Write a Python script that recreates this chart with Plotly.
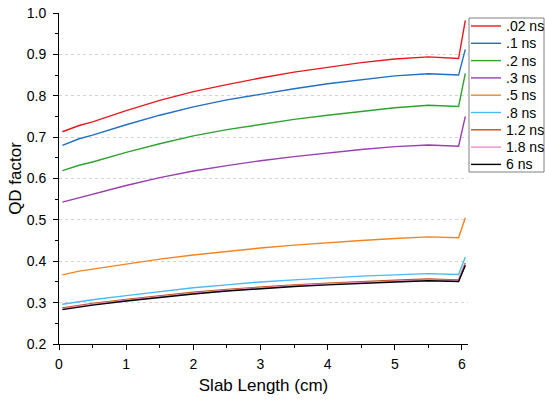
import plotly.graph_objects as go

x = [0.05, 0.3, 0.5, 1.0, 1.5, 2.0, 2.5, 3.0, 3.5, 4.0, 4.5, 5.0, 5.5, 5.95, 6.05]

names = [".02 ns", ".1 ns", ".2 ns", ".3 ns", ".5 ns", ".8 ns", "1.2 ns", "1.8 ns", "6 ns"]
colors = ["#e8191e", "#1f6fc5", "#2ea32e", "#9a3fb0", "#f5831f", "#4cb8f5", "#c0501a", "#f08ccc", "#000000"]

y_002 = [0.713, 0.728, 0.737, 0.764, 0.789, 0.810, 0.827, 0.843, 0.857, 0.869, 0.880, 0.889, 0.894, 0.890, 0.982]
y_01 = [0.680, 0.696, 0.705, 0.730, 0.753, 0.773, 0.790, 0.804, 0.817, 0.829, 0.839, 0.848, 0.853, 0.850, 0.912]
y_02 = [0.619, 0.632, 0.640, 0.663, 0.684, 0.703, 0.718, 0.731, 0.743, 0.753, 0.762, 0.771, 0.777, 0.774, 0.854]
y_03 = [0.543, 0.554, 0.562, 0.583, 0.602, 0.618, 0.631, 0.643, 0.653, 0.662, 0.670, 0.677, 0.681, 0.678, 0.750]
y_05 = [0.367, 0.376, 0.381, 0.393, 0.405, 0.415, 0.424, 0.432, 0.439, 0.445, 0.450, 0.455, 0.459, 0.457, 0.505]
y_08 = [0.296, 0.303, 0.307, 0.317, 0.327, 0.336, 0.343, 0.350, 0.355, 0.360, 0.364, 0.367, 0.370, 0.368, 0.410]
y_12 = [0.287, 0.294, 0.298, 0.308, 0.317, 0.325, 0.332, 0.338, 0.343, 0.347, 0.351, 0.354, 0.357, 0.355, 0.396]
y_18 = [0.285, 0.292, 0.296, 0.306, 0.315, 0.323, 0.330, 0.336, 0.341, 0.345, 0.349, 0.352, 0.355, 0.353, 0.393]
y_6 = [0.283, 0.290, 0.294, 0.304, 0.313, 0.321, 0.328, 0.334, 0.339, 0.343, 0.347, 0.350, 0.353, 0.351, 0.390]

series = [y_002, y_01, y_02, y_03, y_05, y_08, y_12, y_18, y_6]

W, H = 545, 402
ML, MR, MT, MB = 59, 77, 13, 58
PW, PH = W - ML - MR, H - MT - MB


def px(xp):
    return (xp - ML) / PW


def py(yp):
    return (H - MB - yp) / PH


fig = go.Figure()
for n, c, ys in zip(names, colors, series):
    fig.add_trace(go.Scatter(x=x, y=ys, name=n, mode="lines",
                             line=dict(color=c, width=1.4), showlegend=False))

# custom legend box (layout decoration)
shapes = [dict(type="rect", xref="paper", yref="paper",
               x0=px(469), x1=px(544), y0=py(172), y1=py(18),
               line=dict(color="#808080", width=1), fillcolor="white", layer="above")]
annotations = []
for i, (n, c) in enumerate(zip(names, colors)):
    yc = 26 + 17.3 * i
    shapes.append(dict(type="line", xref="paper", yref="paper",
                       x0=px(471), x1=px(501), y0=py(yc), y1=py(yc),
                       line=dict(color=c, width=1.4), layer="above"))
    annotations.append(dict(xref="paper", yref="paper", x=px(504), y=py(yc),
                            text=n, showarrow=False, xanchor="left", yanchor="middle",
                            font=dict(size=14, color="black")))

fig.update_layout(
    width=W, height=H,
    margin=dict(l=ML, r=MR, t=MT, b=MB, autoexpand=False),
    paper_bgcolor="white", plot_bgcolor="white",
    font=dict(family="Liberation Sans, Arial, sans-serif", size=14, color="#000"),
    showlegend=False,
    shapes=shapes, annotations=annotations,
)
fig.update_xaxes(
    range=[0, 6.09], tickmode="array", tickvals=[0, 1, 2, 3, 4, 5, 6],
    showline=True, linecolor="black", linewidth=1, automargin=False,
    ticks="outside", ticklen=5, tickcolor="black", ticklabelstandoff=2,
    minor=dict(tickvals=[0.5, 1.5, 2.5, 3.5, 4.5, 5.5], ticks="outside", ticklen=3, tickcolor="black"),
    showgrid=False, zeroline=False,
    title=dict(text="Slab Length (cm)", font=dict(size=17), standoff=8),
    tickfont=dict(size=14),
)
fig.update_yaxes(
    range=[0.2, 1.0], tickmode="array", tickvals=[0.2, 0.3, 0.4, 0.5, 0.6, 0.7, 0.8, 0.9, 1.0],
    ticktext=["0.2", "0.3", "0.4", "0.5", "0.6", "0.7", "0.8", "0.9", "1.0"],
    showline=True, linecolor="black", linewidth=1, automargin=False,
    ticks="outside", ticklen=5, tickcolor="black", ticklabelstandoff=4,
    minor=dict(tickvals=[0.25, 0.35, 0.45, 0.55, 0.65, 0.75, 0.85, 0.95], ticks="outside", ticklen=3, tickcolor="black"),
    showgrid=True, gridcolor="#d4d4d4", griddash="3px,3px", gridwidth=1,
    zeroline=False,
    title=dict(text="QD factor", font=dict(size=17), standoff=0),
    tickfont=dict(size=14),
)
fig.write_html("out.html")
